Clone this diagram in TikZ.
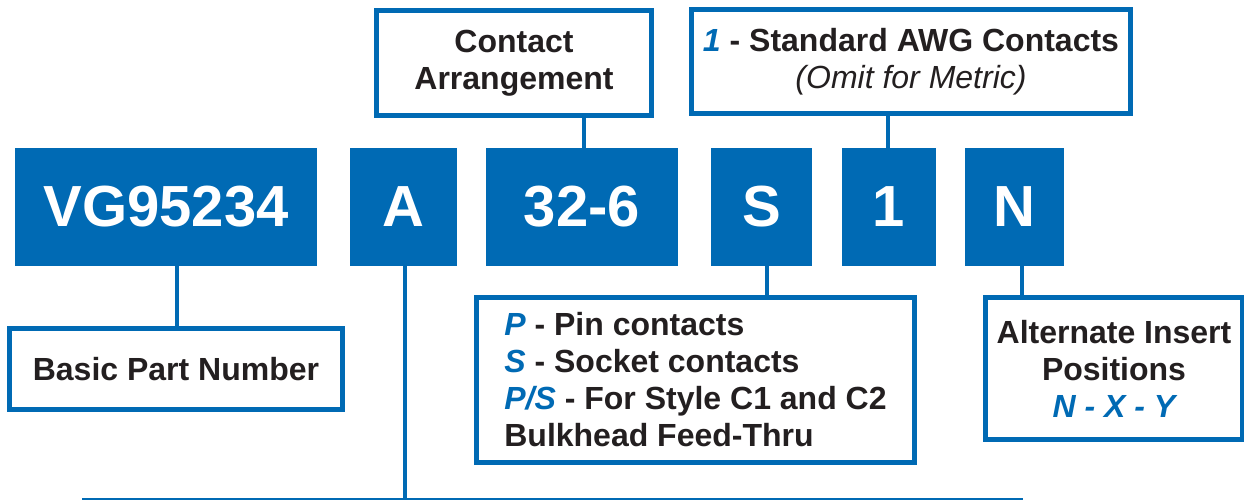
\documentclass[tikz,border=0pt]{standalone}
\usepackage{fontspec}
\setmainfont{Liberation Sans}

\definecolor{vgblue}{RGB}{0,106,180}
\definecolor{vgink}{RGB}{35,31,32}

\tikzset{
  codebox/.style={fill=vgblue, text=white, inner sep=0pt, minimum height=118,
    font=\fontsize{58}{58}\selectfont\bfseries},
  notebox/.style={draw=vgblue, line width=5pt, fill=white, text=vgink, inner sep=0pt,
    align=center, font=\fontsize{32}{37}\selectfont\bfseries},
  link/.style={draw=vgblue, line width=4pt},
  bus/.style={draw=vgblue, line width=2pt}
}
\newcommand{\hl}[1]{{\color{vgblue}\itshape #1}}

\begin{document}
\begin{tikzpicture}[x=1pt, y=-1pt]
\clip (0,0) rectangle (1244,500);

% Part number fields
\node[codebox, minimum width=302] (vg) at (166,207) {VG95234};
\node[codebox, minimum width=107] (shell) at (403.5,207) {A};
\node[codebox, minimum width=192] (arr) at (582,207) {32-6};
\node[codebox, minimum width=101] (cont) at (761.5,207) {S};
\node[codebox, minimum width=94] (awg) at (889,207) {1};
\node[codebox, minimum width=99] (pos) at (1014.5,207) {N};

% Explanations above
\node[notebox, minimum width=275, minimum height=105] (arrnote) at (514,63)
  {Contact\\Arrangement};
\node[notebox, minimum width=439, minimum height=104] (awgnote) at (911,61.5)
  {\hl{1} - Standard AWG Contacts\\{\mdseries\itshape (Omit for Metric)}};

% Explanations below
\node[notebox, minimum width=333, minimum height=81] (basic) at (176,369)
  {Basic Part Number};
\node[notebox, minimum width=438, minimum height=165, align=left] (contnote) at (695.5,380)
  {\hl{P} - Pin contacts\\
   \hl{S} - Socket contacts\\
   \hl{P/S} - For Style C1 and C2\\
   Bulkhead Feed-Thru};
\node[notebox, minimum width=257, minimum height=142] (posnote) at (1114,368.5)
  {Alternate Insert\\Positions\\\hl{N - X - Y}};

% Bus line at the bottom
\coordinate (busL) at (82,498.5);
\coordinate (busR) at (1023,498.5);
\draw[bus] (busL) -- (busR);

% Leaders
\draw[link] ([xshift=11pt]vg.south) -- ([xshift=11pt]vg.south |- basic.north);
\draw[link] ([xshift=1.5pt]shell.south) -- ([xshift=1.5pt]shell.south |- busL);
\draw[link] ([xshift=2pt]arr.north) -- ([xshift=2pt]arr.north |- arrnote.south);
\draw[link] ([xshift=5.5pt]cont.south) -- ([xshift=5.5pt]cont.south |- contnote.north);
\draw[link] ([xshift=-1pt]awg.north) -- ([xshift=-1pt]awg.north |- awgnote.south);
\draw[link] ([xshift=7.5pt]pos.south) -- ([xshift=7.5pt]pos.south |- posnote.north);
\end{tikzpicture}
\end{document}
